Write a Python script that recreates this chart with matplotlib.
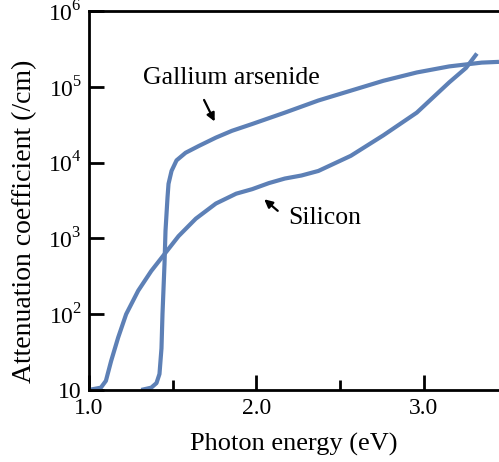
import numpy as np
import matplotlib.pyplot as plt
from matplotlib.ticker import FixedLocator

plt.rcParams['font.family'] = ['Liberation Serif', 'DejaVu Serif']
plt.rcParams['mathtext.fontset'] = 'custom'
plt.rcParams['mathtext.rm'] = 'Liberation Serif'

# absorption data (photon energy in eV, log10 of coefficient per cm)
gaas_e = [1.313, 1.373, 1.404, 1.422, 1.434, 1.440, 1.452, 1.458, 1.470, 1.476,
          1.494, 1.524, 1.578, 1.657, 1.759, 1.855, 1.976, 2.171, 2.371, 2.565,
          2.759, 2.959, 3.153, 3.347, 3.45]
gaas_log = [1.0, 1.03, 1.09, 1.21, 1.55, 2.0, 2.66, 3.10, 3.54, 3.72,
            3.89, 4.03, 4.13, 4.22, 4.33, 4.42, 4.51, 4.66, 4.82, 4.95,
            5.08, 5.19, 5.27, 5.32, 5.33]

si_e = [1.0, 1.072, 1.102, 1.133, 1.175, 1.223, 1.295, 1.373, 1.458, 1.536,
        1.639, 1.759, 1.880, 1.976, 2.076, 2.171, 2.27, 2.371, 2.565, 2.759,
        2.959, 3.153, 3.253, 3.318]
si_log = [1.0, 1.03, 1.12, 1.38, 1.69, 2.0, 2.31, 2.57, 2.81, 3.03,
          3.26, 3.46, 3.59, 3.65, 3.73, 3.79, 3.83, 3.89, 4.09, 4.36,
          4.66, 5.06, 5.25, 5.44]

y_ticks = [1e1, 1e2, 1e3, 1e4, 1e5, 1e6]
y_labels = ['10', '$10^2$', '$10^3$', '$10^4$', '$10^5$', '$10^6$']
x_major = [1.0, 2.0, 3.0]
x_minor = [1.5, 2.5]

line_color = '#5d80b6'

fig = plt.figure(figsize=(4.99, 4.62), dpi=100)
ax = fig.add_axes([0.178, 0.156, 0.822, 0.820])

ax.plot(gaas_e, 10 ** np.array(gaas_log), color=line_color, lw=3,
        solid_joinstyle='round', solid_capstyle='butt')
ax.plot(si_e, 10 ** np.array(si_log), color=line_color, lw=3,
        solid_joinstyle='round', solid_capstyle='butt')

ax.set_yscale('log')
ax.set_xlim(1.0, 3.45)
ax.set_ylim(10, 1e6)

ax.yaxis.set_major_locator(FixedLocator(y_ticks))
ax.yaxis.set_minor_locator(FixedLocator([]))
ax.set_yticklabels(y_labels)
ax.xaxis.set_major_locator(FixedLocator(x_major))
ax.xaxis.set_minor_locator(FixedLocator(x_minor))
ax.set_xticklabels(['%.1f' % v for v in x_major])

ax.tick_params(axis='both', which='major', direction='in', length=11, width=2,
               labelsize=17, pad=6)
ax.tick_params(axis='x', which='minor', direction='in', length=7, width=2)
ax.tick_params(axis='y', which='major', pad=5)

ax.spines['right'].set_visible(False)
for s in ['left', 'bottom', 'top']:
    ax.spines[s].set_linewidth(2)

ax.set_xlabel('Photon energy (eV)', fontsize=19, labelpad=10)
ax.set_ylabel('Attenuation coefficient (/cm)', fontsize=20)
ax.yaxis.set_label_coords(-0.125, 0.444)

ax.text(1.325, 10 ** 5.04, 'Gallium arsenide', fontsize=18.5, va='baseline', ha='left')
ax.annotate('', xy=(1.759, 10 ** 4.51), xytext=(1.681, 10 ** 4.86),
            arrowprops=dict(arrowstyle='-|>', color='black', lw=1.6, mutation_scale=12))
ax.text(2.194, 10 ** 3.19, 'Silicon', fontsize=18.5, va='baseline', ha='left')
ax.annotate('', xy=(2.035, 10 ** 3.54), xytext=(2.141, 10 ** 3.34),
            arrowprops=dict(arrowstyle='-|>', color='black', lw=1.6, mutation_scale=12))

fig.savefig('out.png', dpi=100)
